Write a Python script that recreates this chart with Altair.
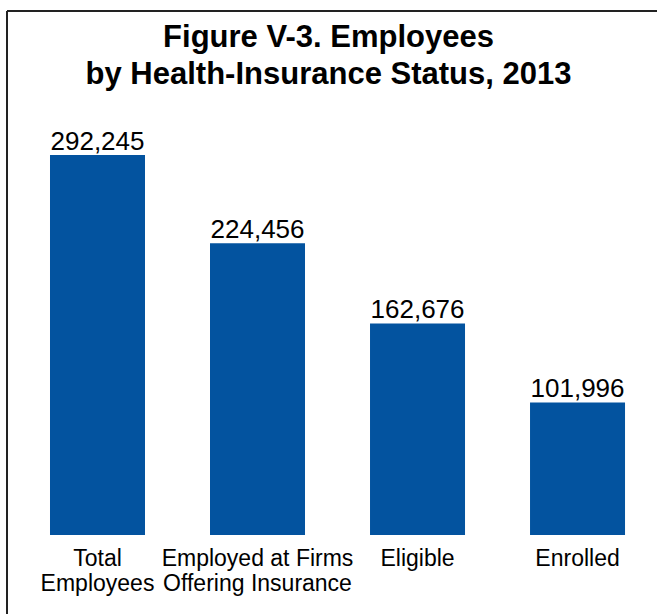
import altair as alt
import pandas as pd

categories = ["Total\nEmployees", "Employed at Firms\nOffering Insurance", "Eligible", "Enrolled"]
values = [292245, 224456, 162676, 101996]
value_labels = ["292,245", "224,456", "162,676", "101,996"]

df = pd.DataFrame({"cat": categories, "val": values, "lbl": value_labels})

FONT = "Liberation Sans"
BAR = "#03539f"

x_enc = alt.X(
    "cat:N",
    sort=categories,
    title=None,
    scale=alt.Scale(paddingInner=0.406, paddingOuter=0.256, align=0.61),
    axis=alt.Axis(
        labelExpr="split(datum.label, '\\n')",
        labelAngle=0,
        labelFont=FONT,
        labelFontSize=23,
        labelLineHeight=25,
        labelColor="black",
        labelPadding=12,
        labelBaseline="top",
        labelLimit=400,
        domain=False,
        ticks=False,
        grid=False,
    ),
)
y_enc = alt.Y(
    "val:Q",
    title=None,
    scale=alt.Scale(domain=[0, 311472], nice=False),
    axis=None,
)

base = alt.Chart(df).encode(x=x_enc, y=y_enc)

bars = base.mark_bar(color=BAR, size=95)
texts = base.mark_text(
    font=FONT, fontSize=26, color="black", baseline="alphabetic", dy=-5
).encode(text="lbl:N")

frame_data = alt.Data(values=[{"a": 1}])
left_line = alt.Chart(frame_data).mark_rule(color="#222222", strokeWidth=2).encode(
    x=alt.value(7), y=alt.value(-119), y2=alt.value(484)
)
top_line = alt.Chart(frame_data).mark_rule(color="#222222", strokeWidth=2).encode(
    x=alt.value(7), x2=alt.value(657), y=alt.value(-119)
)

chart = (
    alt.layer(bars, texts, left_line, top_line)
    .properties(
        width=657,
        height=405,
        autosize=alt.AutoSizeParams(type="none"),
        padding={"top": 130, "bottom": 79, "left": 0, "right": 0},
        title=alt.TitleParams(
            text=["Figure V-3. Employees", "by Health-Insurance Status, 2013"],
            font=FONT,
            fontSize=31,
            fontWeight="bold",
            lineHeight=37,
            anchor="middle",
            color="black",
            offset=-81,
        ),
        background="white",
    )
    .configure_view(stroke=None)
)

chart.save("out.html", embed_options={"renderer": "svg", "actions": False})
